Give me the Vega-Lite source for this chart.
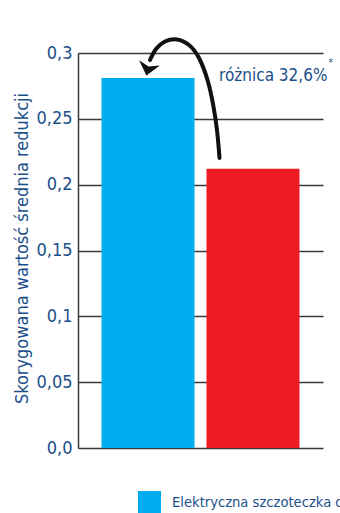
{
  "$schema": "https://vega.github.io/schema/vega-lite/v6.json",
  "width": 245,
  "height": 395,
  "autosize": "none",
  "padding": {"left": 78, "top": 53, "right": 17, "bottom": 65},
  "background": "white",
  "config": {
    "view": {"stroke": null},
    "font": "DejaVu Sans Condensed, sans-serif"
  },
  "datasets": {
    "slupki": [
      {"grupa": "Elektryczna szczoteczka do zębów", "wartosc": 0.281},
      {"grupa": "Szczoteczka manualna", "wartosc": 0.212}
    ],
    "strzalka": [
      {"krok": 1, "x": 0.5776, "y": 0.2203},
      {"krok": 2, "x": 0.5673, "y": 0.2415},
      {"krok": 3, "x": 0.5510, "y": 0.2613},
      {"krok": 4, "x": 0.5286, "y": 0.2795},
      {"krok": 5, "x": 0.4939, "y": 0.2962},
      {"krok": 6, "x": 0.4531, "y": 0.3061},
      {"krok": 7, "x": 0.4041, "y": 0.3103},
      {"krok": 8, "x": 0.3551, "y": 0.3087},
      {"krok": 9, "x": 0.3184, "y": 0.3030},
      {"krok": 10, "x": 0.2939, "y": 0.2947}
    ],
    "grot": [{"x": 0.2865, "y": 0.2885}],
    "opis": [
      {"x": 0.5755, "y": 0.2785, "tekst": "różnica 32,6%", "rodzaj": "glowny"},
      {"x": 1.022, "y": 0.2905, "tekst": "*", "rodzaj": "przypis"}
    ]
  },
  "layer": [
    {
      "data": {"name": "slupki"},
      "mark": {"type": "bar"},
      "encoding": {
        "x": {
          "field": "grupa",
          "type": "nominal",
          "sort": null,
          "scale": {"paddingInner": 0.114, "paddingOuter": 0.224},
          "axis": null
        },
        "y": {
          "field": "wartosc",
          "type": "quantitative",
          "scale": {"domain": [0, 0.3], "nice": false},
          "axis": {
            "title": "Skorygowana wartość średnia redukcji",
            "titleFontSize": 18,
            "titleFontWeight": "normal",
            "titleColor": "#1B4F8A",
            "titleAngle": -90,
            "titleAlign": "center",
            "titleBaseline": "middle",
            "titleX": -56,
            "titleY": 195,
            "values": [0, 0.05, 0.1, 0.15, 0.2, 0.25, 0.3],
            "labelExpr": "datum.value == 0 ? '0,0' : replace(format(datum.value, '.2~f'), '.', ',')",
            "labelFontSize": 18,
            "labelColor": "#1B4F8A",
            "labelPadding": 6,
            "ticks": false,
            "grid": true,
            "gridColor": "#3A3A3A",
            "gridWidth": 1.3,
            "gridOpacity": 1,
            "domain": true,
            "domainColor": "#3A3A3A",
            "domainWidth": 1.5
          }
        },
        "color": {
          "field": "grupa",
          "type": "nominal",
          "sort": null,
          "scale": {"range": ["#00AEEF", "#ED1C24"]},
          "legend": {
            "title": null,
            "orient": "none",
            "direction": "horizontal",
            "legendX": 60,
            "legendY": 438,
            "padding": 0,
            "symbolType": "square",
            "symbolSize": 529,
            "symbolStrokeWidth": 0,
            "symbolOpacity": 1,
            "labelFontSize": 14.6,
            "labelColor": "#1B4F8A",
            "labelOffset": 11,
            "labelLimit": 400,
            "columnPadding": 20
          }
        }
      }
    },
    {
      "data": {"name": "strzalka"},
      "mark": {"type": "line", "interpolate": "natural", "color": "#111111", "strokeWidth": 4, "strokeCap": "round"},
      "encoding": {
        "x": {"field": "x", "type": "quantitative", "scale": {"domain": [0, 1], "nice": false, "zero": false}, "axis": null},
        "y": {"field": "y", "type": "quantitative"},
        "order": {"field": "krok", "type": "quantitative"}
      }
    },
    {
      "data": {"name": "grot"},
      "mark": {
        "type": "point",
        "shape": "M0,0.7 L-1,-0.5 L0,-0.15 L1,-0.5 Z",
        "size": 460,
        "filled": true,
        "color": "#111111",
        "opacity": 1,
        "angle": 14
      },
      "encoding": {
        "x": {"field": "x", "type": "quantitative", "scale": {"domain": [0, 1], "nice": false, "zero": false}, "axis": null},
        "y": {"field": "y", "type": "quantitative"}
      }
    },
    {
      "data": {"name": "opis"},
      "mark": {"type": "text", "align": "left", "baseline": "alphabetic", "color": "#1B4F8A"},
      "encoding": {
        "x": {"field": "x", "type": "quantitative", "scale": {"domain": [0, 1], "nice": false, "zero": false}, "axis": null},
        "y": {"field": "y", "type": "quantitative"},
        "text": {"field": "tekst"},
        "size": {
          "field": "rodzaj",
          "type": "nominal",
          "scale": {"domain": ["glowny", "przypis"], "range": [17, 10]},
          "legend": null
        }
      }
    }
  ],
  "resolve": {"scale": {"x": "independent"}}
}
